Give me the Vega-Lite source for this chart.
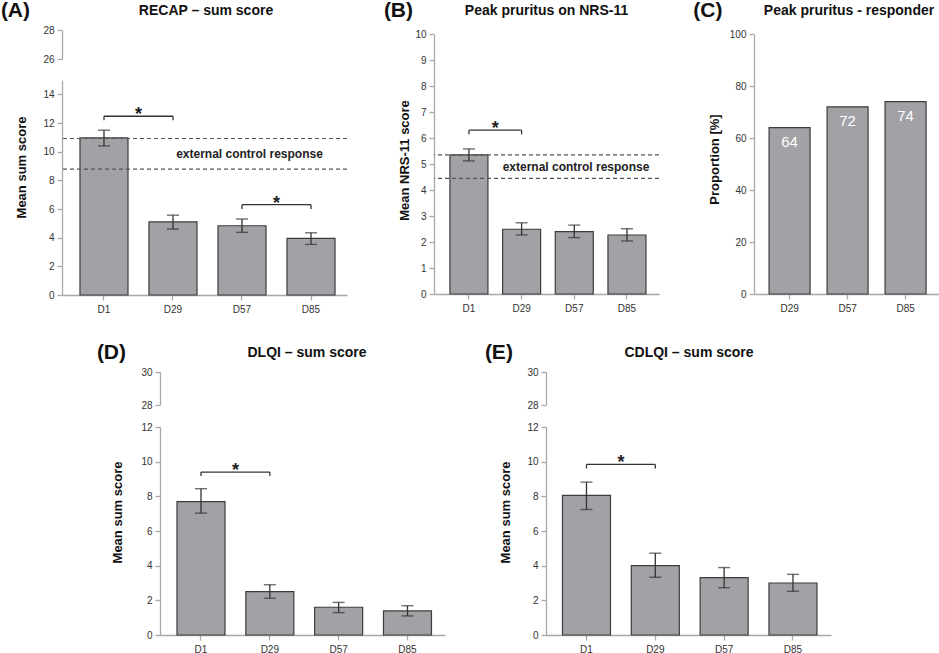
{
  "$schema": "https://vega.github.io/schema/vega-lite/v6.json",
  "padding": 0,
  "datasets": {
    "recap": [
      {"day": "D1", "mean": 10.96, "lo": 10.4, "hi": 11.5},
      {"day": "D29", "mean": 5.1, "lo": 4.6, "hi": 5.57},
      {"day": "D57", "mean": 4.83, "lo": 4.37, "hi": 5.3},
      {"day": "D85", "mean": 3.95, "lo": 3.53, "hi": 4.34}
    ],
    "recap_ref": [{"v": 10.92}, {"v": 8.78}],
    "recap_note": [{"day": "D57", "v": 9.83, "label": "external control response"}],
    "recap_sig": [
      {"from": "D1", "to": "D29", "y": 12.47, "yend": 12.2},
      {"from": "D57", "to": "D85", "y": 6.3, "yend": 6.0}
    ],
    "nrs": [
      {"day": "D1", "mean": 5.35, "lo": 5.12, "hi": 5.58},
      {"day": "D29", "mean": 2.49, "lo": 2.27, "hi": 2.74},
      {"day": "D57", "mean": 2.4, "lo": 2.17, "hi": 2.65},
      {"day": "D85", "mean": 2.27, "lo": 2.04, "hi": 2.51}
    ],
    "nrs_ref": [{"v": 5.35}, {"v": 4.45}],
    "nrs_note": [{"day": "D57", "v": 4.9, "label": "external control response"}],
    "nrs_sig": [{"from": "D1", "to": "D29", "y": 6.3, "yend": 6.14}],
    "responder": [
      {"day": "D29", "pct": 64},
      {"day": "D57", "pct": 72},
      {"day": "D85", "pct": 74}
    ],
    "dlqi": [
      {"day": "D1", "mean": 7.7, "lo": 7.03, "hi": 8.44},
      {"day": "D29", "mean": 2.5, "lo": 2.12, "hi": 2.9},
      {"day": "D57", "mean": 1.6, "lo": 1.29, "hi": 1.88},
      {"day": "D85", "mean": 1.39, "lo": 1.1, "hi": 1.69}
    ],
    "dlqi_sig": [{"from": "D1", "to": "D29", "y": 9.4, "yend": 9.17}],
    "cdlqi": [
      {"day": "D1", "mean": 8.05, "lo": 7.24, "hi": 8.82},
      {"day": "D29", "mean": 4.0, "lo": 3.33, "hi": 4.72},
      {"day": "D57", "mean": 3.31, "lo": 2.73, "hi": 3.89},
      {"day": "D85", "mean": 3.0, "lo": 2.52, "hi": 3.5}
    ],
    "cdlqi_sig": [{"from": "D1", "to": "D29", "y": 9.84, "yend": 9.61}]
  },
  "spacing": 28,
  "center": true,
  "vconcat": [
    {
      "spacing": 33,
      "hconcat": [
        {
          "title": {"text": "(A)", "anchor": "start", "frame": "bounds", "dx": -15, "dy": 17, "offset": 0, "fontSize": 21, "fontWeight": "bold"},
          "bounds": "flush",
          "spacing": 21,
          "vconcat": [
            {
              "title": {"text": "RECAP –  sum score", "anchor": "middle", "frame": "group", "offset": 7},
              "width": 288,
              "height": 29,
              "data": {"values": []},
              "mark": "rule",
              "encoding": {
                "y": {"field": "v", "type": "quantitative", "scale": {"domain": [26, 28], "nice": false, "zero": false}, "axis": {"values": [26, 28], "tickCount": 20, "format": "d", "title": null}}
              }
            },
            {
              "width": 285,
              "height": 215,
              "layer": [
                {
                  "data": {"name": "recap"},
                  "mark": {"type": "bar", "fill": "#a2a2a6", "stroke": "#3c3c3c", "strokeWidth": 1.2},
                  "encoding": {
                    "x": {"field": "day", "type": "nominal", "title": null, "scale": {"domain": ["D1", "D29", "D57", "D85"], "paddingInner": 0.304, "paddingOuter": 0.217, "align": 0.6}},
                    "y": {"field": "mean", "type": "quantitative", "title": "Mean sum score", "scale": {"domain": [0, 15], "nice": false}, "axis": {"values": [0, 2, 4, 6, 8, 10, 12, 14], "tickCount": 20, "format": "d", "titlePadding": 14, "titleY": 87}}
                  }
                },
                {
                  "data": {"name": "recap"},
                  "mark": {"type": "rule", "color": "#333", "strokeWidth": 1.3},
                  "encoding": {
                    "x": {"field": "day", "type": "nominal", "title": null},
                    "y": {"field": "lo", "type": "quantitative", "title": "Mean sum score"},
                    "y2": {"field": "hi"}
                  }
                },
                {
                  "data": {"name": "recap"},
                  "mark": {"type": "tick", "color": "#333", "size": 12, "thickness": 1.4},
                  "encoding": {
                    "x": {"field": "day", "type": "nominal", "title": null},
                    "y": {"field": "lo", "type": "quantitative", "title": "Mean sum score"}
                  }
                },
                {
                  "data": {"name": "recap"},
                  "mark": {"type": "tick", "color": "#333", "size": 12, "thickness": 1.4},
                  "encoding": {
                    "x": {"field": "day", "type": "nominal", "title": null},
                    "y": {"field": "hi", "type": "quantitative", "title": "Mean sum score"}
                  }
                },
                {
                  "data": {"name": "recap_ref"},
                  "mark": {"type": "rule", "color": "#555", "strokeDash": [4, 3], "strokeWidth": 1.2},
                  "encoding": {"y": {"field": "v", "type": "quantitative", "title": "Mean sum score"}}
                },
                {
                  "data": {"name": "recap_note"},
                  "mark": {"type": "text", "fontSize": 12, "fontWeight": "bold", "color": "#222", "baseline": "middle"},
                  "encoding": {
                    "x": {"field": "day", "type": "nominal", "bandPosition": 0.656, "title": null},
                    "y": {"field": "v", "type": "quantitative", "title": "Mean sum score"},
                    "text": {"field": "label"}
                  }
                },
                {
                  "data": {"name": "recap_sig"},
                  "mark": {"type": "rule", "color": "#333", "strokeWidth": 1.3},
                  "encoding": {
                    "x": {"field": "from", "type": "nominal", "title": null},
                    "x2": {"field": "to"},
                    "y": {"field": "y", "type": "quantitative", "title": "Mean sum score"}
                  }
                },
                {
                  "data": {"name": "recap_sig"},
                  "mark": {"type": "rule", "color": "#333", "strokeWidth": 1.3},
                  "encoding": {
                    "x": {"field": "from", "type": "nominal", "title": null},
                    "y": {"field": "y", "type": "quantitative", "title": "Mean sum score"},
                    "y2": {"field": "yend"}
                  }
                },
                {
                  "data": {"name": "recap_sig"},
                  "mark": {"type": "rule", "color": "#333", "strokeWidth": 1.3},
                  "encoding": {
                    "x": {"field": "to", "type": "nominal", "title": null},
                    "y": {"field": "y", "type": "quantitative", "title": "Mean sum score"},
                    "y2": {"field": "yend"}
                  }
                },
                {
                  "data": {"name": "recap_sig"},
                  "mark": {"type": "text", "fontSize": 18, "fontWeight": "bold", "color": "#222", "baseline": "alphabetic", "dy": 4},
                  "encoding": {
                    "x": {"field": "from", "type": "nominal", "bandPosition": 1.219, "title": null},
                    "y": {"field": "y", "type": "quantitative", "title": "Mean sum score"},
                    "text": {"value": "*"}
                  }
                }
              ]
            }
          ]
        },
        {
          "title": {"text": "(B)", "anchor": "start", "frame": "bounds", "dx": -15, "dy": 17, "offset": 0, "fontSize": 21, "fontWeight": "bold"},
          "bounds": "flush",
          "spacing": 3,
          "vconcat": [
            {
              "title": {"text": "Peak pruritus on NRS-11", "anchor": "middle", "frame": "group", "offset": 12},
              "width": 225,
              "height": 1,
              "data": {"values": []},
              "mark": "rule",
              "encoding": {}
            },
            {
              "width": 225,
              "height": 260,
              "layer": [
                {
                  "data": {"name": "nrs"},
                  "mark": {"type": "bar", "fill": "#a2a2a6", "stroke": "#3c3c3c", "strokeWidth": 1.2},
                  "encoding": {
                    "x": {"field": "day", "type": "nominal", "title": null, "scale": {"domain": ["D1", "D29", "D57", "D85"], "paddingInner": 0.2785, "paddingOuter": 0.275, "align": 0.55}},
                    "y": {"field": "mean", "type": "quantitative", "title": "Mean NRS-11 score", "scale": {"domain": [0, 10], "nice": false}, "axis": {"values": [0, 1, 2, 3, 4, 5, 6, 7, 8, 9, 10], "tickCount": 20, "format": "d", "titlePadding": 3, "titleY": 126}}
                  }
                },
                {
                  "data": {"name": "nrs"},
                  "mark": {"type": "rule", "color": "#333", "strokeWidth": 1.3},
                  "encoding": {
                    "x": {"field": "day", "type": "nominal", "title": null},
                    "y": {"field": "lo", "type": "quantitative", "title": "Mean NRS-11 score"},
                    "y2": {"field": "hi"}
                  }
                },
                {
                  "data": {"name": "nrs"},
                  "mark": {"type": "tick", "color": "#333", "size": 12, "thickness": 1.4},
                  "encoding": {
                    "x": {"field": "day", "type": "nominal", "title": null},
                    "y": {"field": "lo", "type": "quantitative", "title": "Mean NRS-11 score"}
                  }
                },
                {
                  "data": {"name": "nrs"},
                  "mark": {"type": "tick", "color": "#333", "size": 12, "thickness": 1.4},
                  "encoding": {
                    "x": {"field": "day", "type": "nominal", "title": null},
                    "y": {"field": "hi", "type": "quantitative", "title": "Mean NRS-11 score"}
                  }
                },
                {
                  "data": {"name": "nrs_ref"},
                  "mark": {"type": "rule", "color": "#555", "strokeDash": [4, 3], "strokeWidth": 1.2},
                  "encoding": {"y": {"field": "v", "type": "quantitative", "title": "Mean NRS-11 score"}}
                },
                {
                  "data": {"name": "nrs_note"},
                  "mark": {"type": "text", "fontSize": 12, "fontWeight": "bold", "color": "#222", "baseline": "middle"},
                  "encoding": {
                    "x": {"field": "day", "type": "nominal", "bandPosition": 0.545, "title": null},
                    "y": {"field": "v", "type": "quantitative", "title": "Mean NRS-11 score"},
                    "text": {"field": "label"}
                  }
                },
                {
                  "data": {"name": "nrs_sig"},
                  "mark": {"type": "rule", "color": "#333", "strokeWidth": 1.3},
                  "encoding": {
                    "x": {"field": "from", "type": "nominal", "title": null},
                    "x2": {"field": "to"},
                    "y": {"field": "y", "type": "quantitative", "title": "Mean NRS-11 score"}
                  }
                },
                {
                  "data": {"name": "nrs_sig"},
                  "mark": {"type": "rule", "color": "#333", "strokeWidth": 1.3},
                  "encoding": {
                    "x": {"field": "from", "type": "nominal", "title": null},
                    "y": {"field": "y", "type": "quantitative", "title": "Mean NRS-11 score"},
                    "y2": {"field": "yend"}
                  }
                },
                {
                  "data": {"name": "nrs_sig"},
                  "mark": {"type": "rule", "color": "#333", "strokeWidth": 1.3},
                  "encoding": {
                    "x": {"field": "to", "type": "nominal", "title": null},
                    "y": {"field": "y", "type": "quantitative", "title": "Mean NRS-11 score"},
                    "y2": {"field": "yend"}
                  }
                },
                {
                  "data": {"name": "nrs_sig"},
                  "mark": {"type": "text", "fontSize": 18, "fontWeight": "bold", "color": "#222", "baseline": "alphabetic", "dy": 4},
                  "encoding": {
                    "x": {"field": "from", "type": "nominal", "bandPosition": 1.193, "title": null},
                    "y": {"field": "y", "type": "quantitative", "title": "Mean NRS-11 score"},
                    "text": {"value": "*"}
                  }
                }
              ]
            }
          ]
        },
        {
          "title": {"text": "(C)", "anchor": "start", "frame": "bounds", "dx": -15, "dy": 17, "offset": 0, "fontSize": 21, "fontWeight": "bold"},
          "bounds": "flush",
          "spacing": 3,
          "vconcat": [
            {
              "title": {"text": "Peak pruritus - responder", "anchor": "middle", "frame": "group", "offset": 12, "dx": 2},
              "width": 186,
              "height": 1,
              "data": {"values": []},
              "mark": "rule",
              "encoding": {}
            },
            {
              "width": 186,
              "height": 260,
              "layer": [
                {
                  "data": {"name": "responder"},
                  "mark": {"type": "bar", "fill": "#a2a2a6", "stroke": "#3c3c3c", "strokeWidth": 1.2},
                  "encoding": {
                    "x": {"field": "day", "type": "nominal", "title": null, "scale": {"domain": ["D29", "D57", "D85"], "paddingInner": 0.293, "paddingOuter": 0.25, "align": 0.52}},
                    "y": {"field": "pct", "type": "quantitative", "title": "Proportion [%]", "scale": {"domain": [0, 100], "nice": false}, "axis": {"values": [0, 20, 40, 60, 80, 100], "tickCount": 20, "format": "d", "titlePadding": 8, "titleY": 125}}
                  }
                },
                {
                  "data": {"name": "responder"},
                  "mark": {"type": "text", "fontSize": 15, "color": "#ffffff", "baseline": "top", "dy": 7},
                  "encoding": {
                    "x": {"field": "day", "type": "nominal", "title": null},
                    "y": {"field": "pct", "type": "quantitative", "title": "Proportion [%]"},
                    "text": {"field": "pct"}
                  }
                }
              ]
            }
          ]
        }
      ]
    },
    {
      "spacing": 30,
      "hconcat": [
        {
          "title": {"text": "(D)", "anchor": "start", "frame": "bounds", "dx": -15, "dy": 17, "offset": 0, "fontSize": 21, "fontWeight": "bold"},
          "bounds": "flush",
          "spacing": 22,
          "vconcat": [
            {
              "title": {"text": "DLQI – sum score", "anchor": "middle", "frame": "group", "offset": 7},
              "width": 294,
              "height": 33,
              "data": {"values": []},
              "mark": "rule",
              "encoding": {
                "y": {"field": "v", "type": "quantitative", "scale": {"domain": [28, 30], "nice": false, "zero": false}, "axis": {"values": [28, 30], "tickCount": 20, "format": "d", "title": null}}
              }
            },
            {
              "width": 285,
              "height": 208,
              "layer": [
                {
                  "data": {"name": "dlqi"},
                  "mark": {"type": "bar", "fill": "#a2a2a6", "stroke": "#3c3c3c", "strokeWidth": 1.2},
                  "encoding": {
                    "x": {"field": "day", "type": "nominal", "title": null, "scale": {"domain": ["D1", "D29", "D57", "D85"], "paddingInner": 0.3026, "paddingOuter": 0.2216, "align": 0.557}},
                    "y": {"field": "mean", "type": "quantitative", "title": "Mean sum score", "scale": {"domain": [0, 12], "nice": false}, "axis": {"values": [0, 2, 4, 6, 8, 10, 12], "tickCount": 20, "format": "d", "titlePadding": 16, "titleY": 85}}
                  }
                },
                {
                  "data": {"name": "dlqi"},
                  "mark": {"type": "rule", "color": "#333", "strokeWidth": 1.3},
                  "encoding": {
                    "x": {"field": "day", "type": "nominal", "title": null},
                    "y": {"field": "lo", "type": "quantitative", "title": "Mean sum score"},
                    "y2": {"field": "hi"}
                  }
                },
                {
                  "data": {"name": "dlqi"},
                  "mark": {"type": "tick", "color": "#333", "size": 12, "thickness": 1.4},
                  "encoding": {
                    "x": {"field": "day", "type": "nominal", "title": null},
                    "y": {"field": "lo", "type": "quantitative", "title": "Mean sum score"}
                  }
                },
                {
                  "data": {"name": "dlqi"},
                  "mark": {"type": "tick", "color": "#333", "size": 12, "thickness": 1.4},
                  "encoding": {
                    "x": {"field": "day", "type": "nominal", "title": null},
                    "y": {"field": "hi", "type": "quantitative", "title": "Mean sum score"}
                  }
                },
                {
                  "data": {"name": "dlqi_sig"},
                  "mark": {"type": "rule", "color": "#333", "strokeWidth": 1.3},
                  "encoding": {
                    "x": {"field": "from", "type": "nominal", "title": null},
                    "x2": {"field": "to"},
                    "y": {"field": "y", "type": "quantitative", "title": "Mean sum score"}
                  }
                },
                {
                  "data": {"name": "dlqi_sig"},
                  "mark": {"type": "rule", "color": "#333", "strokeWidth": 1.3},
                  "encoding": {
                    "x": {"field": "from", "type": "nominal", "title": null},
                    "y": {"field": "y", "type": "quantitative", "title": "Mean sum score"},
                    "y2": {"field": "yend"}
                  }
                },
                {
                  "data": {"name": "dlqi_sig"},
                  "mark": {"type": "rule", "color": "#333", "strokeWidth": 1.3},
                  "encoding": {
                    "x": {"field": "to", "type": "nominal", "title": null},
                    "y": {"field": "y", "type": "quantitative", "title": "Mean sum score"},
                    "y2": {"field": "yend"}
                  }
                },
                {
                  "data": {"name": "dlqi_sig"},
                  "mark": {"type": "text", "fontSize": 18, "fontWeight": "bold", "color": "#222", "baseline": "alphabetic", "dy": 4},
                  "encoding": {
                    "x": {"field": "from", "type": "nominal", "bandPosition": 1.217, "title": null},
                    "y": {"field": "y", "type": "quantitative", "title": "Mean sum score"},
                    "text": {"value": "*"}
                  }
                }
              ]
            }
          ]
        },
        {
          "title": {"text": "(E)", "anchor": "start", "frame": "bounds", "dx": -15, "dy": 17, "offset": 0, "fontSize": 21, "fontWeight": "bold"},
          "bounds": "flush",
          "spacing": 22,
          "vconcat": [
            {
              "title": {"text": "CDLQI – sum score", "anchor": "middle", "frame": "group", "offset": 7, "dx": -5},
              "width": 296,
              "height": 33,
              "data": {"values": []},
              "mark": "rule",
              "encoding": {
                "y": {"field": "v", "type": "quantitative", "scale": {"domain": [28, 30], "nice": false, "zero": false}, "axis": {"values": [28, 30], "tickCount": 20, "format": "d", "title": null}}
              }
            },
            {
              "width": 285,
              "height": 208,
              "layer": [
                {
                  "data": {"name": "cdlqi"},
                  "mark": {"type": "bar", "fill": "#a2a2a6", "stroke": "#3c3c3c", "strokeWidth": 1.2},
                  "encoding": {
                    "x": {"field": "day", "type": "nominal", "title": null, "scale": {"domain": ["D1", "D29", "D57", "D85"], "paddingInner": 0.3026, "paddingOuter": 0.2216, "align": 0.54}},
                    "y": {"field": "mean", "type": "quantitative", "title": "Mean sum score", "scale": {"domain": [0, 12], "nice": false}, "axis": {"values": [0, 2, 4, 6, 8, 10, 12], "tickCount": 20, "format": "d", "titlePadding": 14, "titleY": 85}}
                  }
                },
                {
                  "data": {"name": "cdlqi"},
                  "mark": {"type": "rule", "color": "#333", "strokeWidth": 1.3},
                  "encoding": {
                    "x": {"field": "day", "type": "nominal", "title": null},
                    "y": {"field": "lo", "type": "quantitative", "title": "Mean sum score"},
                    "y2": {"field": "hi"}
                  }
                },
                {
                  "data": {"name": "cdlqi"},
                  "mark": {"type": "tick", "color": "#333", "size": 12, "thickness": 1.4},
                  "encoding": {
                    "x": {"field": "day", "type": "nominal", "title": null},
                    "y": {"field": "lo", "type": "quantitative", "title": "Mean sum score"}
                  }
                },
                {
                  "data": {"name": "cdlqi"},
                  "mark": {"type": "tick", "color": "#333", "size": 12, "thickness": 1.4},
                  "encoding": {
                    "x": {"field": "day", "type": "nominal", "title": null},
                    "y": {"field": "hi", "type": "quantitative", "title": "Mean sum score"}
                  }
                },
                {
                  "data": {"name": "cdlqi_sig"},
                  "mark": {"type": "rule", "color": "#333", "strokeWidth": 1.3},
                  "encoding": {
                    "x": {"field": "from", "type": "nominal", "title": null},
                    "x2": {"field": "to"},
                    "y": {"field": "y", "type": "quantitative", "title": "Mean sum score"}
                  }
                },
                {
                  "data": {"name": "cdlqi_sig"},
                  "mark": {"type": "rule", "color": "#333", "strokeWidth": 1.3},
                  "encoding": {
                    "x": {"field": "from", "type": "nominal", "title": null},
                    "y": {"field": "y", "type": "quantitative", "title": "Mean sum score"},
                    "y2": {"field": "yend"}
                  }
                },
                {
                  "data": {"name": "cdlqi_sig"},
                  "mark": {"type": "rule", "color": "#333", "strokeWidth": 1.3},
                  "encoding": {
                    "x": {"field": "to", "type": "nominal", "title": null},
                    "y": {"field": "y", "type": "quantitative", "title": "Mean sum score"},
                    "y2": {"field": "yend"}
                  }
                },
                {
                  "data": {"name": "cdlqi_sig"},
                  "mark": {"type": "text", "fontSize": 18, "fontWeight": "bold", "color": "#222", "baseline": "alphabetic", "dy": 4},
                  "encoding": {
                    "x": {"field": "from", "type": "nominal", "bandPosition": 1.217, "title": null},
                    "y": {"field": "y", "type": "quantitative", "title": "Mean sum score"},
                    "text": {"value": "*"}
                  }
                }
              ]
            }
          ]
        }
      ]
    }
  ],
  "config": {
    "font": "Liberation Sans",
    "view": {"stroke": null},
    "axis": {
      "domainColor": "#a8a8a8",
      "tickColor": "#a8a8a8",
      "domainWidth": 1.3,
      "tickWidth": 1.3,
      "tickSize": 5,
      "labelFont": "Liberation Sans",
      "labelFontSize": 10,
      "labelColor": "#333333",
      "labelPadding": 3,
      "labelOverlap": false,
      "titleFont": "Liberation Sans",
      "titleFontSize": 13,
      "titleFontWeight": "bold",
      "titleColor": "#111111",
      "grid": false
    },
    "axisX": {"labelAngle": 0, "labelPadding": 4},
    "title": {"font": "Liberation Sans", "fontSize": 14, "fontWeight": "bold", "color": "#111111"}
  }
}
